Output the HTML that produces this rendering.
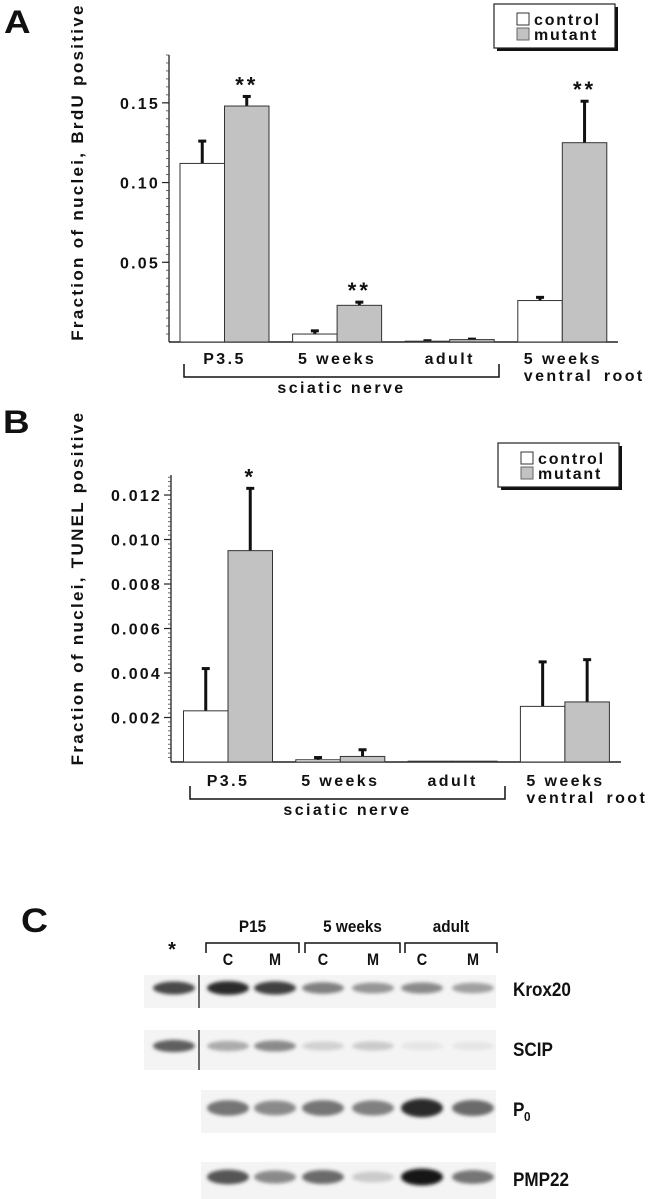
<!DOCTYPE html>
<html><head><meta charset="utf-8"><style>
html,body{margin:0;padding:0;background:#fff}
svg{display:block}
text{font-family:"Liberation Sans",Arial,sans-serif;font-weight:bold;fill:#111}
</style></head><body>
<svg id="fig" width="652" height="1199" viewBox="0 0 652 1199">
<defs>
<filter id="blur" x="-50%" y="-100%" width="200%" height="300%"><feGaussianBlur stdDeviation="1.8"/></filter>
</defs>
</svg>
<script>
// ---------- Panel A data ----------
const catsA = ["P3.5","5 weeks","adult","5 weeks"];
const controlA = [0.112, 0.005, 0.0005, 0.026];
const controlErrA = [0.014, 0.002, 0.0003, 0.002];
const mutantA = [0.148, 0.023, 0.0015, 0.125];
const mutantErrA = [0.006, 0.002, 0.0003, 0.026];
const starsA = ["**","**","","**"];
const ticksA = [0.05, 0.10, 0.15];
const tickLabelsA = ["0.05","0.10","0.15"];
// ---------- Panel B data ----------
const catsB = ["P3.5","5 weeks","adult","5 weeks"];
const controlB = [0.0023, 0.0001, 0, 0.0025];
const controlErrB = [0.0019, 0.0001, 0, 0.0020];
const mutantB = [0.0095, 0.00025, 0, 0.0027];
const mutantErrB = [0.0028, 0.0003, 0, 0.0019];
const starsB = ["*","","",""];
const ticksB = [0.002,0.004,0.006,0.008,0.010,0.012];
const tickLabelsB = ["0.002","0.004","0.006","0.008","0.010","0.012"];
// ---------- Panel C data (band darkness 0..1) ----------
const blotRows = ["Krox20","SCIP","P0","PMP22"];
const krox20 = [0.75, 0.9, 0.8, 0.5, 0.4, 0.45, 0.35];
const scip = [0.65, 0.3, 0.45, 0.12, 0.15, 0.03, 0.03];
const p0 = [0, 0.55, 0.45, 0.55, 0.5, 0.9, 0.6];
const pmp22 = [0, 0.7, 0.45, 0.6, 0.15, 1.0, 0.55];

const NS="http://www.w3.org/2000/svg";
const svg=document.getElementById('fig');
function el(tag,attrs,parent,text){const e=document.createElementNS(NS,tag);for(const k in attrs)e.setAttribute(k,attrs[k]);if(text!==undefined)e.textContent=text;(parent||svg).appendChild(e);return e;}

function panel(cfg){
  const g=el('g',{});
  
  
  const y=v=>cfg.base-(v/cfg.ymax)*(cfg.base-cfg.top);
  const gx=i=>cfg.x0+i*cfg.step;
  const L=el('text',{x:cfg.letterX,y:cfg.letterY,'font-size':32,'transform':`translate(${cfg.letterX},0) scale(1.15,1) translate(${-cfg.letterX},0)`},g,cfg.letter);
  
  
  const ax=el('line',{x1:cfg.axX,y1:cfg.top,x2:cfg.axX,y2:cfg.base,stroke:'#222','stroke-width':1.3},g);
  
  
  const xa=el('line',{x1:cfg.axX,y1:cfg.base,x2:cfg.axEnd,y2:cfg.base,stroke:'#222','stroke-width':1.5},g);
  
  
  const nMinor=Math.round(cfg.ymax/cfg.minor);
  for(let k=1;k<=nMinor;k++){const v=k*cfg.minor; if(v>cfg.ymax+1e-9)break;
    el('line',{x1:cfg.axX-3,y1:y(v),x2:cfg.axX,y2:y(v),stroke:'#444','stroke-width':0.8},g);}
  cfg.ticks.forEach((t,i)=>{
    el('line',{x1:cfg.axX-7,y1:y(t),x2:cfg.axX,y2:y(t),stroke:'#222','stroke-width':1.2},g);
    const tl=el('text',{x:cfg.axX-9,y:y(t)+6,'font-size':16,'text-anchor':'end','letter-spacing':2.2},g,cfg.tickLabels[i]);
    
    
  });
  const yt=el('text',{x:0,y:0,'font-size':17,'text-anchor':'middle','letter-spacing':2.3,transform:`translate(${cfg.titleX},${cfg.titleY}) rotate(-90)`},g,cfg.title);
  
  
  const bw=cfg.bw;
  cfg.control.forEach((v,i)=>{
    const cx=gx(i);
    const drawBar=(val,err,x,fill,nm)=>{
      if(err>0){
        const e=el('line',{x1:x+bw/2,y1:y(val),x2:x+bw/2,y2:y(val+err),stroke:'#111','stroke-width':3},g);
        
        
        el('line',{x1:x+bw/2-4,y1:y(val+err),x2:x+bw/2+4,y2:y(val+err),stroke:'#111','stroke-width':3},g);
      }
      const h=Math.max(cfg.base-y(val),0.8);
      const r=el('rect',{x:x,y:cfg.base-h,width:bw,height:h,fill:fill,stroke:'#333','stroke-width':1},g);
      
      
    };
    drawBar(v,cfg.controlErr[i],cx-bw,'#fff','control');
    drawBar(cfg.mutant[i],cfg.mutantErr[i],cx,'#c2c2c2','mutant');
    if(cfg.stars[i]){
      const s=el('text',{x:cx+bw/2,y:y(cfg.mutant[i]+cfg.mutantErr[i])-4,'font-size':22,'text-anchor':'middle','letter-spacing':3},g,cfg.stars[i]);
      
      
    }
    if(i<3){
      const c=el('text',{x:cx,y:cfg.labY,'font-size':16,'text-anchor':'middle','letter-spacing':2.4},g,cfg.cats[i]);
      
      
    }else{
      const c=el('text',{x:cx-bw+6,y:cfg.labY,'font-size':16,'letter-spacing':2.4},g,cfg.cats[i]);
      
      
      const c2=el('text',{x:cx-bw+6,y:cfg.labY+17,'font-size':16,'letter-spacing':2.4,'word-spacing':4},g,'ventral root');
      
      
    }
  });
  const br=el('path',{d:`M${cfg.brL},${cfg.brTop} V${cfg.brBot} H${cfg.brR} V${cfg.brTop}`,fill:'none',stroke:'#111','stroke-width':1.5},g);
  
  
  const sn=el('text',{x:(cfg.brL+cfg.brR)/2,y:cfg.brBot+16,'font-size':16,'text-anchor':'middle','letter-spacing':2.4},g,'sciatic nerve');
  
  
  const lg=el('g',{},g);
  
  
  const L0=cfg.legX,T0=cfg.legY;
  el('rect',{x:L0+3,y:T0+3,width:121,height:44,fill:'#111'},lg);
  el('rect',{x:L0,y:T0,width:121,height:44,fill:'#fff',stroke:'#222','stroke-width':1.2},lg);
  el('rect',{x:L0+23,y:T0+9,width:12,height:12,fill:'#fff',stroke:'#333','stroke-width':1},lg);
  el('rect',{x:L0+23,y:T0+24,width:12,height:12,fill:'#c2c2c2',stroke:'#666','stroke-width':1},lg);
  const t1=el('text',{x:L0+40,y:T0+21,'font-size':16,'letter-spacing':1.8},lg,'control');
  
  
  const t2=el('text',{x:L0+40,y:T0+36,'font-size':16,'letter-spacing':1.8},lg,'mutant');
  
  
}

panel({name:'panel-a-brdu-chart',letter:'A',letterX:4,letterY:33,axX:169,axEnd:618,top:55,base:342,ymax:0.18,minor:0.005,
  ticks:ticksA,tickLabels:tickLabelsA,title:'Fraction of nuclei, BrdU positive',titleX:83,titleY:172,
  x0:224.5,step:112.6,bw:44.5,cats:catsA,control:controlA,controlErr:controlErrA,mutant:mutantA,mutantErr:mutantErrA,stars:starsA,
  labY:364,brL:184,brR:499,brTop:364,brBot:377,legX:494,legY:4});
panel({name:'panel-b-tunel-chart',letter:'B',letterX:3,letterY:433,axX:171,axEnd:621,top:475,base:762,ymax:0.0129,minor:0.0002,
  ticks:ticksB,tickLabels:tickLabelsB,title:'Fraction of nuclei, TUNEL positive',titleX:83,titleY:588,
  x0:228,step:112.3,bw:44.5,cats:catsB,control:controlB,controlErr:controlErrB,mutant:mutantB,mutantErr:mutantErrB,stars:starsB,
  labY:786,brL:190,brR:505,brTop:786,brBot:799,legX:498,legY:443});

(function(){
  const g=el('g',{});
  
  
  const L=el('text',{x:21,y:932,'font-size':34,transform:'translate(21,0) scale(1.1,1) translate(-21,0)'},g,'C');
  
  
  const lanes=[174,228,275,323,373,422,473];
  const groups=[["P15",206,299],["5 weeks",305,400],["adult",405,497]];
  groups.forEach(gr=>{
    const t=el('text',{x:(gr[1]+gr[2])/2,y:932,'font-size':17,'text-anchor':'middle',transform:`translate(${(gr[1]+gr[2])/2},0) scale(0.9,1) translate(${-(gr[1]+gr[2])/2},0)`},g,gr[0]);
    
    
    el('path',{d:`M${gr[1]},953 V943 H${gr[2]} V953`,fill:'none',stroke:'#111','stroke-width':1.5},g);
  });
  const lab=['C','M','C','M','C','M'];
  lab.forEach((t,i)=>{const e=el('text',{x:lanes[i+1],y:965,'font-size':17,'text-anchor':'middle',transform:`translate(${lanes[i+1]},0) scale(0.85,1) translate(${-lanes[i+1]},0)`},g,t);
    
    });
  const st=el('text',{x:172,y:956,'font-size':20,'text-anchor':'middle'},g,'*');
  
  
  const rows=[
    {name:'Krox20',data:krox20,x0:144,y0:975,y1:1008,band:988,sep:true,bh:6,lab:'Krox20',ly:996},
    {name:'SCIP',data:scip,x0:144,y0:1030,y1:1070,band:1046,sep:true,bh:6,lab:'SCIP',ly:1056},
    {name:'P0',data:p0,x0:201,y0:1090,y1:1133,band:1108,sep:false,bh:8,lab:'P',ly:1116},
    {name:'PMP22',data:pmp22,x0:201,y0:1162,y1:1199,band:1177,sep:false,bh:7,lab:'PMP22',ly:1186}
  ];
  rows.forEach(r=>{
    const rg=el('g',{},g);
    
    
    el('rect',{x:r.x0,y:r.y0,width:496-r.x0,height:r.y1-r.y0,fill:'#f4f4f4'},rg);
    r.data.forEach((d,i)=>{
      if(d<=0)return;
      const c=Math.round(235-d*215);
      const b=el('ellipse',{cx:lanes[i],cy:r.band,rx:21,ry:r.bh*(0.7+0.5*d),fill:`rgb(${c},${c},${c})`,filter:'url(#blur)'},rg);
      
      
    });
    if(r.sep)el('line',{x1:199,y1:r.y0,x2:199,y2:r.y1,stroke:'#222','stroke-width':1.3},rg);
    const t=el('text',{x:513,y:r.ly,'font-size':19,transform:'translate(513,0) scale(0.9,1) translate(-513,0)'},rg,r.lab);
    
    
    if(r.name==='P0'){el('text',{x:524,y:r.ly+5,'font-size':13,transform:'translate(524,0) scale(0.9,1) translate(-524,0)'},rg,'0');}
  });
})();
</script>
</body></html>
